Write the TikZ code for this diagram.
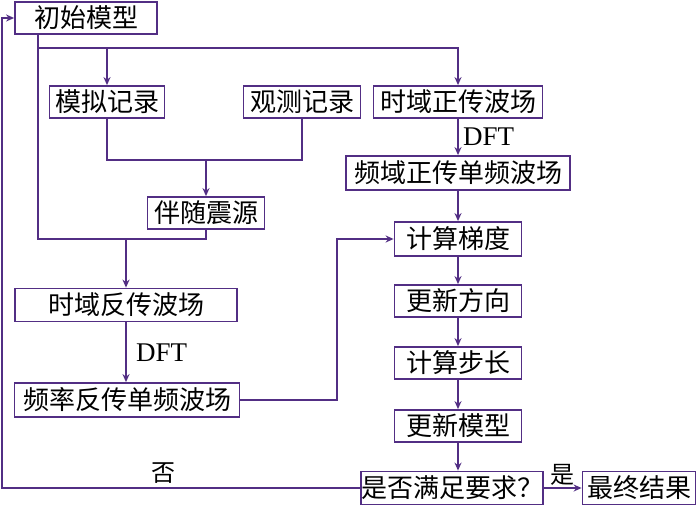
\documentclass[tikz,border=0pt]{standalone}
\usepackage{fontspec}
\setmainfont{Liberation Serif}
\newfontfamily\cjk{Noto Sans CJK SC}
\usetikzlibrary{arrows.meta}
\definecolor{flowcol}{RGB}{82,46,132}
\tikzset{>={Stealth[length=8pt,width=7pt]}}
\tikzset{
    flowbox/.style={draw=flowcol, line width=1.8pt, inner sep=0pt, minimum height=32pt,
        font=\cjk\fontsize{26}{26}\selectfont},
    flow/.style={draw=flowcol, line width=1.8pt},
    tag/.style={font=\fontsize{27}{27}\selectfont}
}

\begin{document}
\begin{tikzpicture}[x=1pt, y=-1pt]
    \useasboundingbox (0,0) rectangle (700,508);
    % boxes
    \node[flowbox, minimum width=142pt] (init) at (86,18) {初始模型};
    \node[flowbox, minimum width=115pt] (sim) at (107,102) {模拟记录};
    \node[flowbox, minimum width=117pt] (obs) at (302,102) {观测记录};
    \node[flowbox, minimum width=169pt] (fwd) at (458,102) {时域正传波场};
    \node[flowbox, minimum width=224pt, minimum height=34pt] (fwdf) at (458,173) {频域正传单频波场};
    \node[flowbox, minimum width=117pt] (adj) at (206,213) {伴随震源};
    \node[flowbox, minimum width=127pt, minimum height=34pt] (grad) at (458,239) {计算梯度};
    \node[flowbox, minimum width=222pt, minimum height=33pt] (back) at (126,305) {时域反传波场};
    \node[flowbox, minimum width=225pt, minimum height=34pt] (backf) at (127,400) {频率反传单频波场};
    \node[flowbox, minimum width=127pt] (dir) at (458,301) {更新方向};
    \node[flowbox, minimum width=127pt] (len) at (458,363) {计算步长};
    \node[flowbox, minimum width=127pt] (upd) at (458,426) {更新模型};
    \node[flowbox, minimum width=180pt, minimum height=33pt] (check) at (452,488) {是否满足要求？};
    \node[flowbox, minimum width=113pt, minimum height=33pt] (final) at (639,488) {最终结果};

    % branch points
    \coordinate (split) at (38,48);
    \coordinate (merge) at (38,239);
    \coordinate (join) at (206,160);
    \coordinate (turn) at (337,400);
    \coordinate (back left) at (2,488);

    % connectors
    \draw[flow] (init.south -| split) -- (merge) -- (merge -| adj.south) -- (adj.south);
    \draw[flow, ->] (split) -| (fwd.north);
    \draw[flow, ->] (split -| sim.north) -- (sim.north);
    \draw[flow, ->] (merge -| back.north) -- (back.north);
    \draw[flow] (sim.south) |- (join) -| (obs.south);
    \draw[flow, ->] (join) -- (adj.north);
    \draw[flow, ->] (fwd.south) -- node[tag, right, xshift=1pt] {DFT} (fwdf.north);
    \draw[flow, ->] (fwdf.south) -- (grad.north);
    \draw[flow, ->] (back.south) -- node[tag, right, xshift=6pt] {DFT} (back.south |- backf.north);
    \draw[flow, ->] (backf.east) -- (turn) |- (grad.west);
    \draw[flow, ->] (grad.south) -- (dir.north);
    \draw[flow, ->] (dir.south) -- (len.north);
    \draw[flow, ->] (len.south) -- (upd.north);
    \draw[flow, ->] (upd.south) -- (upd.south |- check.north);
    \draw[flow, ->] (check.east) -- node[above, font=\cjk\fontsize{24}{24}\selectfont, yshift=-2pt] {是} (final.west);
    \draw[flow, ->] (check.west) -- node[pos=0.55, above, font=\cjk\fontsize{24}{24}\selectfont] {否} (back left) |- (init.west);
\end{tikzpicture}
\end{document}
